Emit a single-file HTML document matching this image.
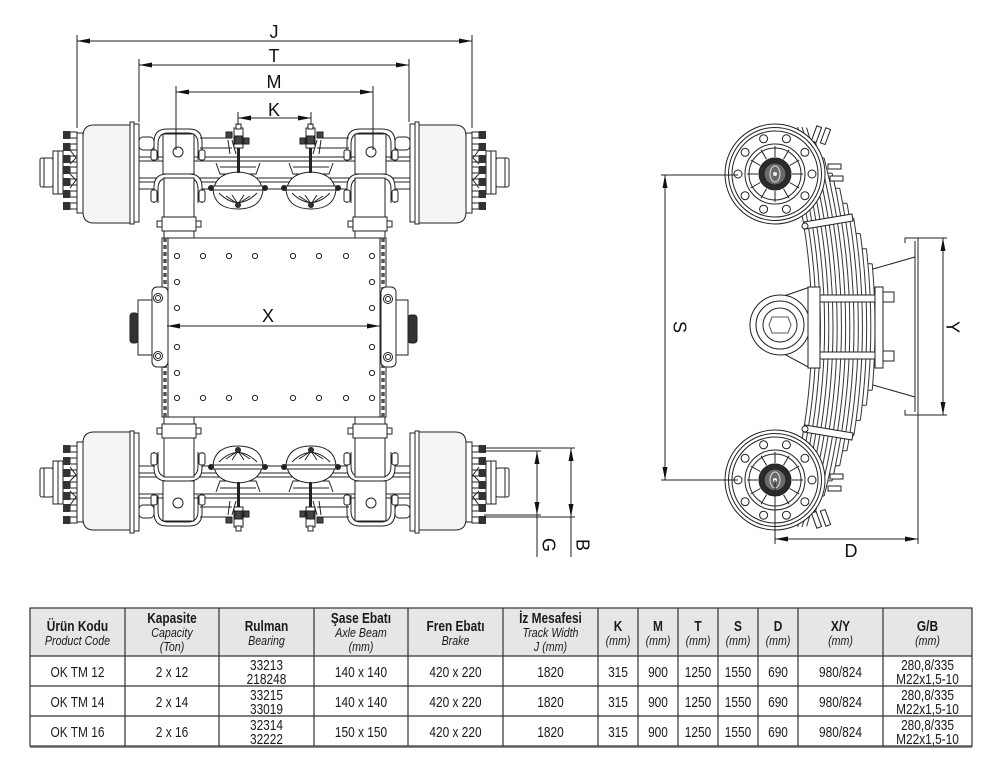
<!DOCTYPE html>
<html><head><meta charset="utf-8">
<style>
html,body{margin:0;padding:0;background:#fff;}
svg{display:block;}
.dim{font-family:"Liberation Sans",Arial,sans-serif;font-size:18px;fill:#111;}
.th{font-family:"Liberation Sans",sans-serif;font-size:14.5px;font-weight:bold;fill:#1a1a1a;}
.ti{font-family:"Liberation Sans",sans-serif;font-size:13px;font-style:italic;fill:#1a1a1a;}
.td{font-family:"Liberation Sans",sans-serif;font-size:14.5px;fill:#1a1a1a;}
</style></head>
<body>
<svg width="1000" height="769" viewBox="0 0 1000 769" xmlns="http://www.w3.org/2000/svg">
<defs>
<g id="topHalf">
  <rect x="40" y="158" width="13" height="29" rx="2" fill="#fff"/>
  <line x1="44" y1="158" x2="44" y2="187"/>
  <rect x="53" y="151" width="10" height="43" fill="#fff"/>
  <line x1="58" y1="151" x2="58" y2="194"/>
  <rect x="70" y="132" width="7" height="6" fill="#fff"/>
  <rect x="70" y="144" width="7" height="6" fill="#fff"/>
  <rect x="70" y="156" width="7" height="6" fill="#fff"/>
  <rect x="70" y="167" width="7" height="6" fill="#fff"/>
  <rect x="70" y="179" width="7" height="6" fill="#fff"/>
  <rect x="70" y="191" width="7" height="6" fill="#fff"/>
  <rect x="70" y="203" width="7" height="6" fill="#fff"/>
  <g fill="#333" stroke="none">
    <rect x="63" y="131" width="7" height="8"/>
    <rect x="63" y="143" width="7" height="8"/>
    <rect x="63" y="155" width="7" height="8"/>
    <rect x="63" y="166" width="7" height="8"/>
    <rect x="63" y="178" width="7" height="8"/>
    <rect x="63" y="190" width="7" height="8"/>
    <rect x="63" y="202" width="7" height="8"/>
  </g>
  <path d="M70,150 L76,158 L70,164 M70,174 L76,180 L70,188"/>
  <rect x="77" y="133" width="6" height="80" fill="#fff"/>
  <path d="M83,136 Q83,125 94,125 L130,125 L130,223 L94,223 Q83,223 83,212 Z" fill="#f5f5f5"/>
  <rect x="130" y="122" width="4" height="102" fill="#fff"/>
  <rect x="134" y="124" width="5" height="98" fill="#fff"/>
  <rect x="139" y="137" width="15" height="13" rx="4" fill="#fff"/>
  <line x1="139" y1="157" x2="275" y2="157"/>
  <line x1="139" y1="161" x2="275" y2="161"/>
  <line x1="139" y1="178" x2="275" y2="178"/>
  <line x1="139" y1="182" x2="275" y2="182"/>
  <line x1="139" y1="189" x2="275" y2="189"/>
  <line x1="200" y1="138" x2="232" y2="138"/>
  <line x1="200" y1="148" x2="232" y2="148"/>
  <rect x="163" y="134" width="31" height="40" fill="#fff"/>
  <path d="M154,160 L154,142 Q154,129 167,129 L189,129 Q202,129 202,142 L202,160"/>
  <path d="M158,160 L158,144 Q158,133 168,133 L188,133 Q198,133 198,144 L198,160"/>
  <rect x="151" y="150" width="6" height="10" rx="2" fill="#fff"/>
  <rect x="199" y="150" width="6" height="10" rx="2" fill="#fff"/>
  <circle cx="178" cy="152" r="5" fill="#fff"/>
  <path d="M154,203 L154,187 Q154,174 167,174 L189,174 Q202,174 202,187 L202,203" fill="#fff"/>
  <path d="M158,203 L158,189 Q158,178 168,178 L188,178 Q198,178 198,189 L198,203"/>
  <rect x="151" y="190" width="6" height="12" rx="2" fill="#fff"/>
  <rect x="199" y="190" width="6" height="12" rx="2" fill="#fff"/>
  <rect x="164" y="178" width="30" height="62" fill="#fff"/>
  <rect x="162" y="217" width="34" height="14" fill="#fff"/>
  <rect x="157" y="221" width="5" height="6" fill="#fff"/>
  <rect x="196" y="221" width="5" height="6" fill="#fff"/>
  <path d="M216,163 L220,174 L256,174 L260,163" fill="#fff"/>
  <line x1="220" y1="167" x2="256" y2="167"/>
  <path d="M214,188 Q217,173 238,172 Q259,173 262,188 Z" fill="#fff"/>
  <path d="M213,190 Q215,209 238,209 Q261,209 263,190" fill="#fff"/>
  <path d="M219,193 Q238,212 257,193"/>
  <path d="M238,204 L226,196 M238,204 L232,195 M238,204 L244,195 M238,204 L250,196"/>
  <rect x="210" y="186" width="56" height="4" fill="#fff"/>
  <circle cx="211" cy="188" r="2.5" fill="#222"/>
  <circle cx="265" cy="188" r="2.5" fill="#222"/>
  <circle cx="238" cy="205" r="2.5" fill="#333"/>
  <rect x="237" y="147" width="3" height="26" fill="#222" stroke="none"/>
  <rect x="234" y="128" width="9" height="20" fill="#fff"/>
  <rect x="236" y="124" width="5" height="5" fill="#fff"/>
  <rect x="235" y="136" width="7" height="8" fill="#444"/>
  <rect x="226" y="132" width="6" height="6" fill="#444"/>
  <rect x="244" y="138" width="5" height="6" fill="#444"/>
  <path d="M228,140 L230,154 M232,140 L236,154"/>
</g>
<g id="topAxle">
  <use href="#topHalf"/>
  <use href="#topHalf" transform="translate(549,0) scale(-1,1)"/>
</g>
<g id="wheel">
  <circle r="50" fill="#fff"/>
  <circle r="46.5"/>
  <circle r="43"/>
  <circle cx="37" cy="0" r="4" fill="#fff"/>
  <circle cx="29.9" cy="21.7" r="4" fill="#fff"/>
  <circle cx="11.4" cy="35.2" r="4" fill="#fff"/>
  <circle cx="-11.4" cy="35.2" r="4" fill="#fff"/>
  <circle cx="-29.9" cy="21.7" r="4" fill="#fff"/>
  <circle cx="-37" cy="0" r="4" fill="#fff"/>
  <circle cx="-29.9" cy="-21.7" r="4" fill="#fff"/>
  <circle cx="-11.4" cy="-35.2" r="4" fill="#fff"/>
  <circle cx="11.4" cy="-35.2" r="4" fill="#fff"/>
  <circle cx="29.9" cy="-21.7" r="4" fill="#fff"/>
  <circle r="30"/>
  <circle r="26"/>
  <path d="M17,0 L28,0 M14.7,8.5 L24.2,14 M8.5,14.7 L14,24.2 M0,17 L0,28 M-8.5,14.7 L-14,24.2 M-14.7,8.5 L-24.2,14 M-17,0 L-28,0 M-14.7,-8.5 L-24.2,-14 M-8.5,-14.7 L-14,-24.2 M0,-17 L0,-28 M8.5,-14.7 L14,-24.2 M14.7,-8.5 L24.2,-14"/>
  <circle r="16" fill="#2b2b2b"/>
  <circle r="11" fill="#6a6a6a" stroke="#222"/>
  <ellipse rx="5" ry="8" stroke="#ddd"/>
  <circle r="2" fill="#eee" stroke="none"/>
</g>
</defs>

<g fill="none" stroke="#222" stroke-width="1">
  <use href="#topAxle"/>
  <use href="#topAxle" transform="translate(0,655) scale(1,-1)"/>

  <rect x="167" y="238" width="213" height="179" fill="#fff"/>
  <rect x="162" y="238" width="6" height="179" fill="#fff"/>
  <rect x="380" y="238" width="6" height="179" fill="#fff"/>
  <line x1="165" y1="238" x2="165" y2="417" stroke="#555" stroke-width="3.5" stroke-dasharray="4 3"/>
  <line x1="383" y1="238" x2="383" y2="417" stroke="#555" stroke-width="3.5" stroke-dasharray="4 3"/>
  <g fill="#fff">
    <circle cx="177" cy="256" r="2.6"/><circle cx="203" cy="256" r="2.6"/><circle cx="229" cy="256" r="2.6"/><circle cx="255" cy="256" r="2.6"/>
    <circle cx="293" cy="256" r="2.6"/><circle cx="319" cy="256" r="2.6"/><circle cx="346" cy="256" r="2.6"/><circle cx="372" cy="256" r="2.6"/>
    <circle cx="177" cy="398" r="2.6"/><circle cx="203" cy="398" r="2.6"/><circle cx="229" cy="398" r="2.6"/><circle cx="255" cy="398" r="2.6"/>
    <circle cx="293" cy="398" r="2.6"/><circle cx="319" cy="398" r="2.6"/><circle cx="346" cy="398" r="2.6"/><circle cx="372" cy="398" r="2.6"/>
    <circle cx="177" cy="282" r="2.6"/><circle cx="177" cy="308" r="2.6"/><circle cx="177" cy="347" r="2.6"/><circle cx="177" cy="373" r="2.6"/>
    <circle cx="372" cy="282" r="2.6"/><circle cx="372" cy="308" r="2.6"/><circle cx="372" cy="347" r="2.6"/><circle cx="372" cy="373" r="2.6"/>
  </g>
  <path d="M152,300 L138,300 L138,355 L152,355" fill="#fff"/>
  <rect x="130" y="313" width="8" height="30" rx="3" fill="#333"/>
  <rect x="152" y="287" width="16" height="80" rx="5" fill="#fff"/>
  <circle cx="158" cy="298" r="4.5" fill="#fff"/><circle cx="158" cy="298" r="2.5"/>
  <circle cx="158" cy="356" r="4.5" fill="#fff"/><circle cx="158" cy="356" r="2.5"/>
  <path d="M396,300 L408,300 L408,355 L396,355" fill="#fff"/>
  <rect x="408" y="315" width="9" height="28" rx="3" fill="#333"/>
  <rect x="381" y="287" width="15" height="80" rx="5" fill="#fff"/>
  <circle cx="388" cy="299" r="4.5" fill="#fff"/><circle cx="388" cy="299" r="2.5"/>
  <circle cx="388" cy="357" r="4.5" fill="#fff"/><circle cx="388" cy="357" r="2.5"/>

  <line x1="77" y1="35" x2="77" y2="128"/>
  <line x1="472" y1="35" x2="472" y2="128"/>
  <line x1="77" y1="41" x2="472" y2="41"/>
  <line x1="139" y1="59" x2="139" y2="122"/>
  <line x1="409" y1="59" x2="409" y2="122"/>
  <line x1="139" y1="65" x2="409" y2="65"/>
  <line x1="176" y1="86" x2="176" y2="150"/>
  <line x1="373" y1="86" x2="373" y2="150"/>
  <line x1="176" y1="92" x2="373" y2="92"/>
  <line x1="238" y1="112" x2="238" y2="125"/>
  <line x1="311" y1="112" x2="311" y2="125"/>
  <line x1="238" y1="118" x2="311" y2="118"/>
  <line x1="167" y1="326" x2="380" y2="326"/>
  <line x1="484" y1="448" x2="575" y2="448"/>
  <line x1="484" y1="451" x2="541" y2="451"/>
  <line x1="484" y1="515" x2="541" y2="515"/>
  <line x1="484" y1="517" x2="575" y2="517"/>
  <line x1="537" y1="451" x2="537" y2="557"/>
  <line x1="571" y1="448" x2="571" y2="557"/>

  <g stroke="#333">
    <path d="M779.9,127 A640,640 0 0 1 779.9,527"/>
    <path d="M784.4,127 A644.2,644.2 0 0 1 784.4,527"/>
    <path d="M788.8,127 A648.4,648.4 0 0 1 788.8,527"/>
    <path d="M793.2,127 A652.6,652.6 0 0 1 793.2,527"/>
    <path d="M797.6,127 A656.8,656.8 0 0 1 797.6,527"/>
    <path d="M802.0,127 A661,661 0 0 1 802.0,527"/>
    <path d="M806.6,127.7 A665.2,665.2 0 0 1 806.6,526.3"/>
    <path d="M815.6,142.8 A669.4,669.4 0 0 1 815.6,511.2"/>
    <path d="M824.1,158 A673.6,673.6 0 0 1 824.1,496"/>
    <path d="M832.1,173.1 A677.8,677.8 0 0 1 832.1,480.9"/>
    <path d="M839.7,188.2 A682,682 0 0 1 839.7,465.8"/>
    <path d="M847.0,203.3 A686.2,686.2 0 0 1 847.0,450.7"/>
    <path d="M853.8,218.4 A690.4,690.4 0 0 1 853.8,435.6"/>
    <path d="M860.3,233.6 A694.6,694.6 0 0 1 860.3,420.4"/>
    <path d="M866.4,248.7 A698.8,698.8 0 0 1 866.4,405.3"/>
    <path d="M872.2,263.8 A703,703 0 0 1 872.2,390.2"/>
    <path d="M811,142.8 L815.6,142.8 M819.5,158 L824.1,158 M827.5,173.1 L832.1,173.1 M835,188.2 L839.7,188.2 M842.5,203.3 L847,203.3 M849.3,218.4 L853.8,218.4 M855.8,233.6 L860.3,233.6 M862,248.7 L866.4,248.7 M868,263.8 L872.2,263.8"/>
    <path d="M811,511.2 L815.6,511.2 M819.5,496 L824.1,496 M827.5,480.9 L832.1,480.9 M835,465.8 L839.7,465.8 M842.5,450.7 L847,450.7 M849.3,435.6 L853.8,435.6 M855.8,420.4 L860.3,420.4 M862,405.3 L866.4,405.3 M868,390.2 L872.2,390.2"/>
  </g>
  <path d="M804,222 L852,214 L853,221 L805,229 Z" fill="#fff"/>
  <circle cx="805" cy="226" r="3" fill="#fff"/>
  <path d="M804,432 L852,440 L853,433 L805,425 Z" fill="#fff"/>
  <circle cx="805" cy="429" r="3" fill="#fff"/>
  <rect x="814" y="126" width="5" height="16" fill="#fff" transform="rotate(20 816 134)"/>
  <rect x="823" y="128" width="5" height="16" fill="#fff" transform="rotate(20 825 136)"/>
  <rect x="828" y="164" width="13" height="5" fill="#fff"/>
  <rect x="830" y="176" width="13" height="5" fill="#fff"/>
  <rect x="814" y="512" width="5" height="16" fill="#fff" transform="rotate(-20 816 520)"/>
  <rect x="823" y="510" width="5" height="16" fill="#fff" transform="rotate(-20 825 518)"/>
  <rect x="828" y="486" width="13" height="5" fill="#fff"/>
  <rect x="830" y="474" width="13" height="5" fill="#fff"/>

  <path d="M784,296 L810,287 L810,368 L784,354 Z" fill="#fff"/>
  <circle cx="780" cy="325" r="30" fill="#fff"/>
  <circle cx="780" cy="325" r="24"/>
  <circle cx="780" cy="325" r="17"/>
  <path d="M772,317 L788,317 L791,325 L788,333 L772,333 L769,325 Z" stroke="#555"/>
  <rect x="808" y="287" width="12" height="81" fill="#fff"/>
  <rect x="820" y="295" width="55" height="7" fill="#fff"/>
  <rect x="820" y="352" width="55" height="7" fill="#fff"/>
  <rect x="875" y="287" width="8" height="81" fill="#fff"/>
  <rect x="883" y="292" width="11" height="10" fill="#fff"/>
  <rect x="883" y="351" width="11" height="10" fill="#fff"/>

  <path d="M905,243 L905,238 L918,238 L918,415 L905,415 L905,410"/>
  <line x1="915" y1="241" x2="915" y2="412"/>
  <line x1="915" y1="257" x2="873" y2="269"/>
  <line x1="873" y1="385" x2="915" y2="397"/>

  <use href="#wheel" transform="translate(775,174)"/>
  <use href="#wheel" transform="translate(775,480)"/>

  <line x1="661" y1="175" x2="738" y2="175"/>
  <line x1="661" y1="480" x2="738" y2="480"/>
  <line x1="665" y1="175" x2="665" y2="480"/>
  <line x1="918" y1="238" x2="947" y2="238"/>
  <line x1="918" y1="415" x2="947" y2="415"/>
  <line x1="943" y1="238" x2="943" y2="415"/>
  <line x1="775" y1="480" x2="775" y2="544"/>
  <line x1="918" y1="415" x2="918" y2="544"/>
  <line x1="775" y1="539" x2="918" y2="539"/>
</g>

<g fill="#111">
  <polygon points="77,41 90,38.5 90,43.5"/><polygon points="472,41 459,38.5 459,43.5"/>
  <polygon points="139,65 152,62.5 152,67.5"/><polygon points="409,65 396,62.5 396,67.5"/>
  <polygon points="176,92 189,89.5 189,94.5"/><polygon points="373,92 360,89.5 360,94.5"/>
  <polygon points="238,118 251,115.5 251,120.5"/><polygon points="311,118 298,115.5 298,120.5"/>
  <polygon points="167,326 180,323.5 180,328.5"/><polygon points="380,326 367,323.5 367,328.5"/>
  <polygon points="537,451 534.5,464 539.5,464"/><polygon points="537,515 534.5,502 539.5,502"/>
  <polygon points="571,448 568.5,461 573.5,461"/><polygon points="571,517 568.5,504 573.5,504"/>
  <polygon points="665,175 662.5,188 667.5,188"/><polygon points="665,480 662.5,467 667.5,467"/>
  <polygon points="943,238 940.5,251 945.5,251"/><polygon points="943,415 940.5,402 945.5,402"/>
  <polygon points="775,539 788,536.5 788,541.5"/><polygon points="918,539 905,536.5 905,541.5"/>
</g>

<g class="dim" text-anchor="middle">
  <text x="274" y="38">J</text>
  <text x="274" y="62">T</text>
  <text x="274" y="88">M</text>
  <text x="274" y="116">K</text>
  <text x="268" y="322">X</text>
  <text x="851" y="557">D</text>
  <text transform="translate(549,545) rotate(90)" y="6.5">G</text>
  <text transform="translate(583,545) rotate(90)" y="6.5">B</text>
  <text transform="translate(680,327) rotate(90)" y="6.5">S</text>
  <text transform="translate(953,327) rotate(90)" y="6.5">Y</text>
</g>

<rect x="30" y="608" width="942" height="48" fill="#e6e6e6"/>
<g stroke="#333" stroke-width="1.2" fill="none">
  <rect x="30" y="608" width="942" height="138"/>
  <line x1="30" y1="656" x2="972" y2="656"/>
  <line x1="30" y1="686" x2="972" y2="686"/>
  <line x1="30" y1="716" x2="972" y2="716"/>
  <line x1="125" y1="608" x2="125" y2="746"/>
  <line x1="219" y1="608" x2="219" y2="746"/>
  <line x1="314" y1="608" x2="314" y2="746"/>
  <line x1="408" y1="608" x2="408" y2="746"/>
  <line x1="503" y1="608" x2="503" y2="746"/>
  <line x1="598" y1="608" x2="598" y2="746"/>
  <line x1="638" y1="608" x2="638" y2="746"/>
  <line x1="678" y1="608" x2="678" y2="746"/>
  <line x1="718" y1="608" x2="718" y2="746"/>
  <line x1="758" y1="608" x2="758" y2="746"/>
  <line x1="798" y1="608" x2="798" y2="746"/>
  <line x1="883" y1="608" x2="883" y2="746"/>
</g>
<line x1="30" y1="747" x2="972" y2="747" stroke="#666" stroke-width="1.5"/>

<g text-anchor="middle" transform="scale(0.82,1)">
  <text class="th" x="94.51" y="631">Ürün Kodu</text><text class="ti" x="94.51" y="645">Product Code</text>
  <text class="th" x="209.76" y="623">Kapasite</text><text class="ti" x="209.76" y="637">Capacity</text><text class="ti" x="209.76" y="651">(Ton)</text>
  <text class="th" x="325" y="631">Rulman</text><text class="ti" x="325" y="645">Bearing</text>
  <text class="th" x="440.24" y="623">Şase Ebatı</text><text class="ti" x="440.24" y="637">Axle Beam</text><text class="ti" x="440.24" y="651">(mm)</text>
  <text class="th" x="555.49" y="631">Fren Ebatı</text><text class="ti" x="555.49" y="645">Brake</text>
  <text class="th" x="671.34" y="623">İz Mesafesi</text><text class="ti" x="671.34" y="637">Track Width</text><text class="ti" x="671.34" y="651">J (mm)</text>
  <text class="th" x="753.66" y="631">K</text><text class="ti" x="753.66" y="645">(mm)</text>
  <text class="th" x="802.44" y="631">M</text><text class="ti" x="802.44" y="645">(mm)</text>
  <text class="th" x="851.22" y="631">T</text><text class="ti" x="851.22" y="645">(mm)</text>
  <text class="th" x="900" y="631">S</text><text class="ti" x="900" y="645">(mm)</text>
  <text class="th" x="948.78" y="631">D</text><text class="ti" x="948.78" y="645">(mm)</text>
  <text class="th" x="1025" y="631">X/Y</text><text class="ti" x="1025" y="645">(mm)</text>
  <text class="th" x="1131.1" y="631">G/B</text><text class="ti" x="1131.1" y="645">(mm)</text>

  <text class="td" x="94.51" y="677">OK TM 12</text>
  <text class="td" x="209.76" y="677">2 x 12</text>
  <text class="td" x="325" y="670">33213</text><text class="td" x="325" y="684">218248</text>
  <text class="td" x="440.24" y="677">140 x 140</text>
  <text class="td" x="555.49" y="677">420 x 220</text>
  <text class="td" x="671.34" y="677">1820</text>
  <text class="td" x="753.66" y="677">315</text>
  <text class="td" x="802.44" y="677">900</text>
  <text class="td" x="851.22" y="677">1250</text>
  <text class="td" x="900" y="677">1550</text>
  <text class="td" x="948.78" y="677">690</text>
  <text class="td" x="1025" y="677">980/824</text>
  <text class="td" x="1131.1" y="670">280,8/335</text><text class="td" x="1131.1" y="684">M22x1,5-10</text>

  <text class="td" x="94.51" y="707">OK TM 14</text>
  <text class="td" x="209.76" y="707">2 x 14</text>
  <text class="td" x="325" y="700">33215</text><text class="td" x="325" y="714">33019</text>
  <text class="td" x="440.24" y="707">140 x 140</text>
  <text class="td" x="555.49" y="707">420 x 220</text>
  <text class="td" x="671.34" y="707">1820</text>
  <text class="td" x="753.66" y="707">315</text>
  <text class="td" x="802.44" y="707">900</text>
  <text class="td" x="851.22" y="707">1250</text>
  <text class="td" x="900" y="707">1550</text>
  <text class="td" x="948.78" y="707">690</text>
  <text class="td" x="1025" y="707">980/824</text>
  <text class="td" x="1131.1" y="700">280,8/335</text><text class="td" x="1131.1" y="714">M22x1,5-10</text>

  <text class="td" x="94.51" y="737">OK TM 16</text>
  <text class="td" x="209.76" y="737">2 x 16</text>
  <text class="td" x="325" y="730">32314</text><text class="td" x="325" y="744">32222</text>
  <text class="td" x="440.24" y="737">150 x 150</text>
  <text class="td" x="555.49" y="737">420 x 220</text>
  <text class="td" x="671.34" y="737">1820</text>
  <text class="td" x="753.66" y="737">315</text>
  <text class="td" x="802.44" y="737">900</text>
  <text class="td" x="851.22" y="737">1250</text>
  <text class="td" x="900" y="737">1550</text>
  <text class="td" x="948.78" y="737">690</text>
  <text class="td" x="1025" y="737">980/824</text>
  <text class="td" x="1131.1" y="730">280,8/335</text><text class="td" x="1131.1" y="744">M22x1,5-10</text>
</g>
</svg>
</body>
</html>
